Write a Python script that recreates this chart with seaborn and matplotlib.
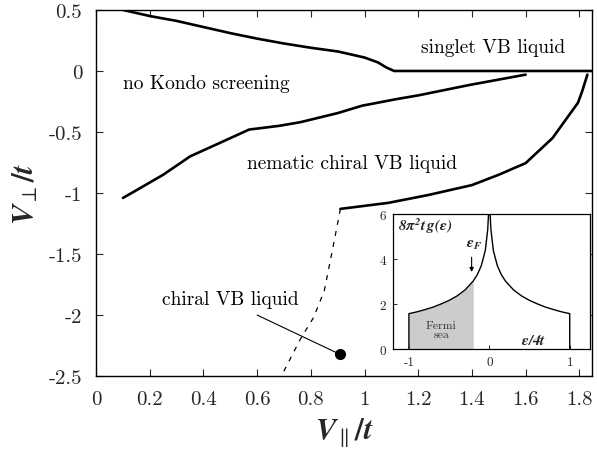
import numpy as np
import pandas as pd
import matplotlib
matplotlib.use("Agg")
import matplotlib.pyplot as plt
import seaborn as sns

# ---- data ----
upper_x = [0.10, 0.20, 0.30, 0.40, 0.50, 0.60, 0.70, 0.80, 0.90, 1.00, 1.05, 1.08, 1.11, 1.85]
upper_y = [0.50, 0.45, 0.41, 0.36, 0.31, 0.265, 0.225, 0.19, 0.16, 0.11, 0.07, 0.03, 0.0, 0.0]

mid_x = [0.10, 0.14, 0.25, 0.35, 0.41, 0.50, 0.57, 0.68, 0.76, 0.90, 0.99, 1.12, 1.20, 1.39, 1.60]
mid_y = [-1.04, -0.99, -0.85, -0.70, -0.64, -0.55, -0.48, -0.45, -0.42, -0.345, -0.285, -0.23, -0.20, -0.115, -0.03]

low_x = [0.91, 1.09, 1.24, 1.40, 1.50, 1.60, 1.70, 1.795, 1.81, 1.83]
low_y = [-1.13, -1.08, -1.015, -0.935, -0.85, -0.755, -0.55, -0.26, -0.17, -0.03]

dash_x = [0.91, 0.88, 0.85, 0.81, 0.76, 0.69]
dash_y = [-1.13, -1.47, -1.80, -2.02, -2.20, -2.50]

dot_x, dot_y = 0.907, -2.32

# inset: density of states
dos_x = [-1.0, -1.0, -0.9, -0.8, -0.7, -0.6, -0.5, -0.4, -0.3, -0.2, -0.15, -0.1, -0.05, -0.02, -0.01, -0.005,
         0.005, 0.01, 0.02, 0.05, 0.1, 0.15, 0.2, 0.3, 0.4, 0.5, 0.6, 0.7, 0.8, 0.9, 1.0, 1.0]
dos_y = [0.0, 1.57, 1.65, 1.75, 1.86, 2.00, 2.16, 2.36, 2.63, 3.02, 3.30, 3.70, 4.38, 5.30, 5.99, 6.68,
         6.68, 5.99, 5.30, 4.38, 3.70, 3.30, 3.02, 2.63, 2.36, 2.16, 2.00, 1.86, 1.75, 1.65, 1.57, 0.0]
eps_F = -0.2

sns.set_style("ticks")
plt.rcParams["font.family"] = ["cmr10", "DejaVu Serif"]
plt.rcParams["axes.unicode_minus"] = False
plt.rcParams["mathtext.fontset"] = "stix"
plt.rcParams["axes.formatter.use_mathtext"] = False

fig = plt.figure(figsize=(5.97, 4.56), dpi=100)
ax = fig.add_axes([0.161, 0.173, 0.831, 0.803])

def line(a, x, y, **kw):
    df = pd.DataFrame({"x": x, "y": y})
    sns.lineplot(data=df, x="x", y="y", ax=a, sort=False, estimator=None, **kw)

line(ax, upper_x, upper_y, color="black", lw=1.9)
line(ax, mid_x, mid_y, color="black", lw=1.9)
line(ax, low_x, low_y, color="black", lw=1.9)
line(ax, dash_x, dash_y, color="black", lw=0.9, linestyle=(0, (4, 5)))
ax.plot([0.60, dot_x], [-2.00, dot_y], color="black", lw=0.8)
ax.plot([dot_x], [dot_y], "o", color="black", ms=7)

ax.set_xlim(0, 1.848)
ax.set_ylim(-2.5, 0.5)
ax.set_xticks(np.arange(0, 1.81, 0.2))
ax.set_xticklabels(["0", "0.2", "0.4", "0.6", "0.8", "1", "1.2", "1.4", "1.6", "1.8"])
ax.set_yticks([0.5, 0, -0.5, -1, -1.5, -2, -2.5])
ax.set_yticklabels(["0.5", "0", "-0.5", "-1", "-1.5", "-2", "-2.5"])
ax.tick_params(direction="in", top=True, right=True, length=5, width=0.8, labelsize=15, pad=10)
for s in ax.spines.values():
    s.set_linewidth(1.0)
    s.set_color("black")

ax.set_xlabel(r"$\mathbfit{V}_{\parallel}\mathbf{/}\mathbfit{t}$", fontsize=22, labelpad=5)
ax.set_ylabel(r"$\mathbfit{V}_{\perp}\mathbf{/}\mathbfit{t}$", fontsize=22, labelpad=6)

tk = dict(fontsize=14, color="black")
ax.text(0.10, -0.10, "no Kondo screening", ha="left", va="center", **tk)
ax.text(1.48, 0.20, "singlet VB liquid", ha="center", va="center", **tk)
ax.text(0.955, -0.75, "nematic chiral VB liquid", ha="center", va="center", **tk)
ax.text(0.50, -1.87, "chiral VB liquid", ha="center", va="center", **tk)

# ---- inset ----
ins = fig.add_axes([0.658, 0.2325, 0.330, 0.296])
line(ins, dos_x, dos_y, color="black", lw=1.0)
fx = [x for x in dos_x[1:] if x <= eps_F]
fy = [y for x, y in zip(dos_x[1:], dos_y[1:]) if x <= eps_F]
ins.fill_between(fx, 0, fy, color="#cccccc", lw=0)
ins.set_xlim(-1.2, 1.25)
ins.set_ylim(0, 6)
ins.set_xticks([-1, 0, 1])
ins.set_xticklabels(["-1", "0", "1"])
ins.set_yticks([0, 2, 4, 6])
ins.set_yticklabels(["0", "2", "4", "6"])
ins.tick_params(direction="in", length=3, width=0.7, labelsize=9.5, pad=5)
ins.set_xlabel("")
ins.set_ylabel("")
for s in ins.spines.values():
    s.set_linewidth(0.9)
    s.set_color("black")
ins.text(-1.14, 5.5, r"$\mathbfit{8\pi^2 t\, g(\epsilon)}$", fontsize=11, ha="left", va="center")
ins.text(-0.19, 4.65, r"$\mathbfit{\epsilon_F}$", fontsize=11, ha="center", va="center")
ins.annotate("", xy=(eps_F - 0.02, 3.3), xytext=(eps_F - 0.02, 4.2),
             arrowprops=dict(arrowstyle="-|>", color="black", lw=0.8, mutation_scale=6))
ins.text(-0.6, 0.85, "Fermi\nsea", fontsize=8.5, ha="center", va="center", color="#333333", linespacing=0.9)
ins.text(0.55, 0.4, r"$\mathbfit{\epsilon/4t}$", fontsize=11, ha="center", va="center")

fig.savefig("out.png", dpi=100)
